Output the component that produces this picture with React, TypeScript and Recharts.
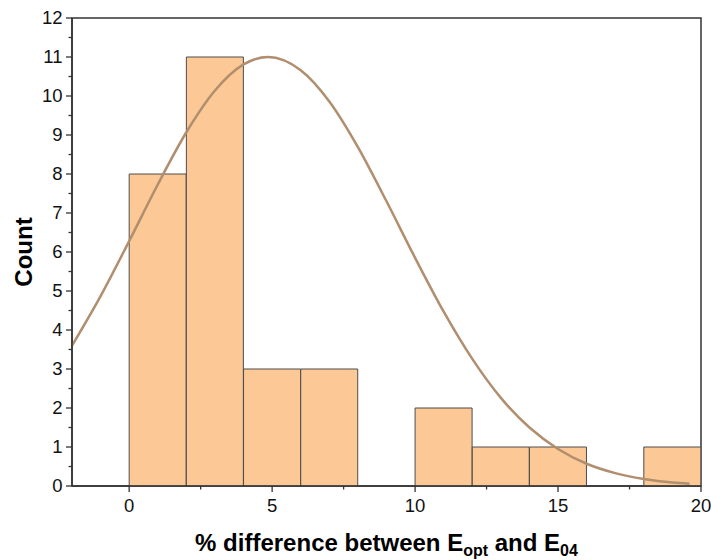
import React from 'react';
import { ComposedChart, Bar, Line, XAxis, YAxis, ReferenceArea } from 'recharts';

const binCenters = [1, 3, 5, 7, 9, 11, 13, 15, 17, 19];
const counts = [8, 11, 3, 3, 0, 2, 1, 1, 0, 1];

const curveX = [-2, -1, 0, 1, 2, 3, 4, 4.85, 6, 7, 8, 9, 10, 11, 12, 13, 14, 15, 16, 17, 18, 19, 19.6];
const curveY = [3.6, 4.87, 6.28, 7.73, 9.07, 10.14, 10.81, 11.0, 10.66, 9.86, 8.69, 7.3, 5.85, 4.47, 3.26, 2.26, 1.5, 0.95, 0.57, 0.33, 0.18, 0.09, 0.06];

const xTicks = [0, 2.5, 5, 7.5, 10, 12.5, 15, 17.5, 20];
const xMajor = [0, 5, 10, 15, 20];
const yTicks = [0, 0.5, 1, 1.5, 2, 2.5, 3, 3.5, 4, 4.5, 5, 5.5, 6, 6.5, 7, 7.5, 8, 8.5, 9, 9.5, 10, 10.5, 11, 11.5, 12];

const barData = binCenters.map((x, i) => ({ x, count: counts[i] }));
const curveData = curveX.map((x, i) => ({ x, fit: curveY[i] }));

const FONT = '"Liberation Sans", Arial, sans-serif';
const AXIS = '#333333';

const XTick = (props: any) => {
  const { x, y, payload } = props;
  const v = payload.value;
  const major = xMajor.includes(v);
  return (
    <g>
      <line x1={x} x2={x} y1={y} y2={y + (major ? 6 : 3.5)} stroke={AXIS} strokeWidth={1.3} />
      {major && (
        <text x={x} y={y + 26.3} textAnchor="middle" fontFamily={FONT} fontSize={18.5} fill="#111">
          {v}
        </text>
      )}
    </g>
  );
};

const YTick = (props: any) => {
  const { x, y, payload } = props;
  const v = payload.value;
  const major = Number.isInteger(v);
  return (
    <g>
      <line x1={x - (major ? 6 : 3.5)} x2={x} y1={y} y2={y} stroke={AXIS} strokeWidth={1.3} />
      {major && (
        <text x={x - 9.5} y={y + 5.8} textAnchor="end" fontFamily={FONT} fontSize={18.5} fill="#111">
          {v}
        </text>
      )}
    </g>
  );
};

const XTitle = (props: any) => {
  const vb = props.viewBox;
  const cx = vb.x + vb.width / 2;
  const by = vb.y + 65;
  return (
    <text x={cx} y={by} textAnchor="middle" fontFamily={FONT} fontSize={24} fontWeight="bold" fill="#000">
      <tspan>% difference between E</tspan>
      <tspan fontSize={16} dy={5}>opt</tspan>
      <tspan dy={-5}> and E</tspan>
      <tspan fontSize={16} dy={5}>04</tspan>
    </text>
  );
};

const YTitle = (props: any) => {
  const vb = props.viewBox;
  const bx = vb.x + 32;
  const cy = vb.y + vb.height / 2;
  return (
    <text
      x={bx}
      y={cy}
      transform={`rotate(-90, ${bx}, ${cy})`}
      textAnchor="middle"
      fontFamily={FONT}
      fontSize={24}
      fontWeight="bold"
      fill="#000"
    >
      Count
    </text>
  );
};

export default function App() {
  return (
    <div style={{ position: 'absolute', left: 0, top: 0, width: 711, height: 560, background: '#fff' }}>
      <ComposedChart
        width={711}
        height={560}
        data={barData}
        margin={{ top: 18, right: 10, bottom: 0, left: 0 }}
        barCategoryGap={0}
        barGap={0}
      >
        <XAxis
          dataKey="x"
          type="number"
          domain={[-2, 20]}
          allowDataOverflow
          ticks={xTicks}
          interval={0}
          height={74}
          tickSize={0}
          tickMargin={0}
          tickLine={false}
          tick={<XTick />}
          axisLine={{ stroke: AXIS, strokeWidth: 1.5 }}
          label={{ content: <XTitle /> } as any}
        />
        <XAxis xAxisId="curve" dataKey="x" type="number" domain={[-2, 20]} allowDataOverflow hide />
        <YAxis
          type="number"
          domain={[0, 12]}
          allowDataOverflow
          ticks={yTicks}
          interval={0}
          width={72}
          tickSize={0}
          tickMargin={0}
          tickLine={false}
          tick={<YTick />}
          axisLine={{ stroke: AXIS, strokeWidth: 1.5 }}
          label={{ content: <YTitle /> } as any}
        />
        <ReferenceArea x1={-2} x2={20} y1={0} y2={12} fill="none" stroke={AXIS} strokeWidth={1.5} ifOverflow="visible" />
        <Bar dataKey="count" fill="#FBC896" stroke="#4d4d4d" strokeWidth={1} isAnimationActive={false} />
        <Line
          xAxisId="curve"
          data={curveData}
          dataKey="fit"
          type="monotone"
          stroke="#B08E6E"
          strokeWidth={2.5}
          dot={false}
          activeDot={false}
          isAnimationActive={false}
        />
      </ComposedChart>
    </div>
  );
}
